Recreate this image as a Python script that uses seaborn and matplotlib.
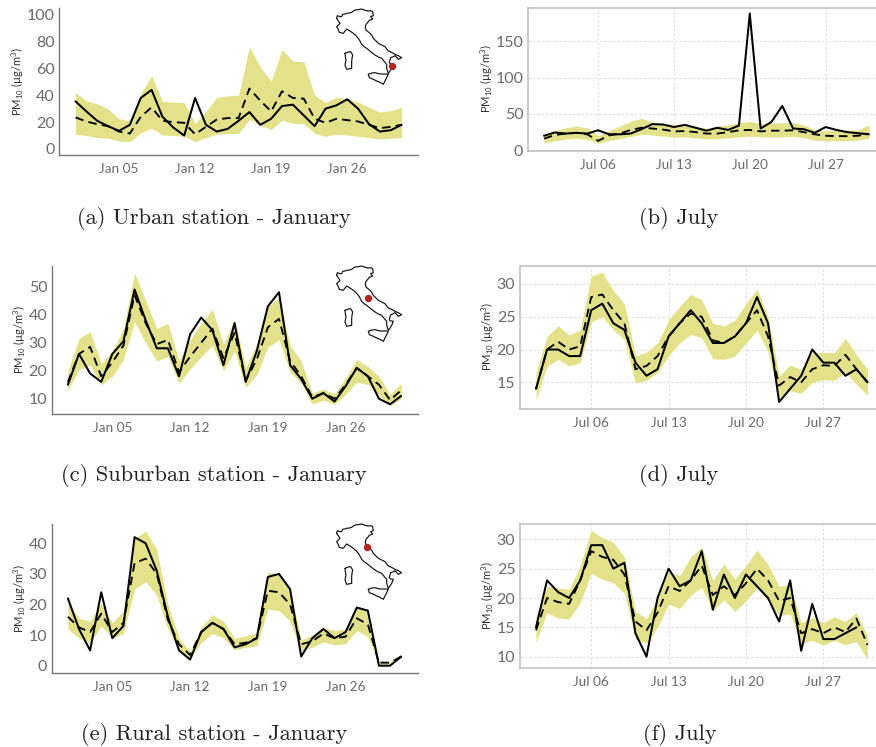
import numpy as np, pandas as pd
import matplotlib
matplotlib.use('Agg')
import matplotlib.pyplot as plt
import matplotlib.dates as mdates
import seaborn as sns

a_solid=[35.5,28,21,17,13.5,18,38,44,24,16,10,38,18,13,15,21,27.5,18,22.5,32,33,25,17,30,32.5,37,30,18.5,13,14,18]
a_dash=[23.5,20.5,18.5,17,13,11.5,24,31,21,20,19.5,11,16.5,22,23,23,45,36,28,43,38,37.5,22.5,19.5,22.5,21.5,20.5,18,15.5,16.5,18]
a_up=[42,36,33.5,30,22.5,21,41,54.5,35.5,35,34.5,19,28,38.5,39.5,40,76,61,50.5,74,65.5,65,40,34.5,38.5,37.5,35,31,27.5,28.5,31]
a_lo=[11,10,8.5,8,6,5.5,12,15.5,10.5,10,9.5,5.5,8.5,11,11.5,11.5,22,17.5,14.5,21.5,19,19,11.5,9.5,11,10.5,9.5,8.5,7.5,8,8.5]

b_solid=[20,24.5,23,24,23,27.5,22,22,23,29,36,35.5,32,35,31,27,31,28,34,188,30,39,61,30,29,24,32,28,25,23.5,22]
b_dash=[16,21,23,24,22,13,20.5,23,28,31,30,28.5,26,26.5,25,23,23,25,27.5,28,26,27,27,27.5,25,22,20,19.5,19.5,20,22.5]
b_up=[21,27,31,33.5,31,20,27,33,40,44,39,36,35,34,33,30,33,35,38,39.5,37,37.5,38,38,35,28,27,27.5,27.5,28,35]
b_lo=[10,13,15.5,16.5,15,9.5,13.5,16,19,22,21,19.5,18,18.5,17,15.5,16,17,18.5,19.5,18.5,18.5,18.5,19,17.5,14,13,13,13,14,16.5]

c_solid=[15,26,19,16,26,30.5,49,38,28,28,18,33,39,34.5,22,37,16,27,43,48,22,17,10,12,9,14.5,21,18,10,8,11]
c_dash=[16,26,28.5,18,23,29,47,37,29.5,31,19.5,25,30,35,24.5,33.5,16.5,24,35.5,38.5,23.5,18,10.5,12,10,15,21,18,15,9.5,13]
c_up=[20,31.5,34,22.5,27,35,55,45,35,37,23.5,31,37,42,29.5,38.5,21,29.5,43,46,29,23.5,12,13.5,11.5,17.5,24,21.5,18,11.5,15.5]
c_lo=[13,20.5,22,15,18,24,37.5,30,23.5,25,15.5,20.5,25,29,20,27,14,18.5,28.5,31,19.5,15.5,8,9.5,8,11.5,16,15,11.5,7.5,10]

d_solid=[14,20,20,19,19,26,27,24,23,18,16,17,22,24,26,24,21,21,22,24,28,24,12,14,16,20,18,18,16,17,15]
d_dash=[14,20,21.2,20,20.5,28,28.4,26,24,17,17.5,19,22,24,25.5,25,21.4,21,22,24,26,22,14.5,15.8,15,17,17.6,17.5,19.2,17,15]
d_up=[16.5,22,23.6,22.2,23,31.2,31.8,29,27,19,19.6,21,24.5,26.6,28.4,27.6,24,23.6,24.5,27,29.2,25,16,17.6,17,19.5,19.6,19.5,21.7,19.2,17]
d_lo=[12.3,17.4,18.5,17.5,18,24.2,25,23,21.5,14.9,15.3,16.5,19,21,22.3,21.8,18.6,18.5,19,21,22.9,19.7,12.5,13.7,13.3,15,15.4,15.3,16.5,14.7,13]

e_solid=[22,12,5,24,9,13,42,40,31,16,5,2,11,14,12,6,7,9,29,30,25,3,9,12,9,11,19,18,0,0,3]
e_dash=[16,12.5,11,17,11,14,33.5,35,30,15,7,3.5,11,14,12,7,7.5,9,24.5,24,20,7,8,10.5,9,9.5,15.5,13.5,1,1,3]
e_up=[20.5,15.5,14.5,20.5,14,18,41.5,44,38,20,9,4.5,12.5,16.7,14.5,9,9.8,10.8,30.5,30,25,8.5,10,12.5,11.5,12,19.5,17.5,1.5,1.2,3.5]
e_lo=[12,9,7.5,13,9,10.5,25,27.5,23,12,5,2.5,7.5,10.5,9,5.2,6,6.5,18.5,18,14.5,5,6,7.8,6.8,7.2,11.5,9.5,0.3,0.3,2.5]

f_solid=[15,23,21,20,23,29,29,25,26,14,10,20,25,22,23,28,18,24,20,24,22,20,16,23,11,19,13,13,14,15,np.nan]
f_dash=[14.5,20,19.3,19,23,28,27,26.5,24,16,14.5,17.5,22,21.2,23,25.5,20.5,22,20.5,22.5,25,23,19.5,20,14,14.7,14,15,14.2,16.5,12]
f_up=[17,22,21.7,21.5,25.5,31.5,30.3,29.5,27,17.7,16.5,20,24.5,23.8,27,28.7,23,25.8,23.2,25.5,28.2,25.7,22,22.3,15.8,16.7,15.8,16.8,16,17.5,13.5]
f_lo=[12.5,17.5,16.6,16.4,19.2,24.2,23.2,22.6,20.8,13,12.3,15,19,18.2,20.5,21.8,17.8,19.7,17.7,19.5,21.7,19.5,17,17.3,12.2,12.8,12,12.8,12,12.6,9.5]

jan_ticks=['2020-01-05','2020-01-12','2020-01-19','2020-01-26']
jul_ticks=['2020-07-06','2020-07-13','2020-07-20','2020-07-27']
captions=['(a) Urban station - January','(b) July','(c) Suburban station - January','(d) July','(e) Rural station - January','(f) July']

# Italy outline (hand-traced)
main_x=[20,22,30,35,38,45,50,58,65,70,75,85,95,105,115,122,128,130,122,128,118,115,108,106,108,114,120,126,130,138,145,155,165,170,175,185,195,205,215,205,195,188,182,178,180,190,185,180,175,170,170,163,155,145,135,122,110,102,95,90,85,78,70,60,50,45,40,28,24,20,30,20]
main_y=[40,32,35,35,28,27,25,24,22,18,15,14,12,16,18,17,20,32,35,42,46,50,58,66,75,80,85,92,100,108,115,120,125,132,138,142,148,152,158,163,152,156,158,172,176,178,190,198,205,190,178,170,160,156,150,140,130,125,118,108,100,92,85,78,72,78,85,82,72,65,55,40]
sic_x=[115,125,135,150,175,170,165,160,150,140,128,118,115]
sic_y=[208,204,203,207,207,218,228,238,232,228,222,218,208]
sar_x=[45,55,62,68,66,65,65,50,45,48,46,45]
sar_y=[145,141,140,150,160,170,190,193,180,165,155,145]

sns.set_theme(style='white')
plt.rcParams['font.family']=['Lato','DejaVu Sans']
plt.rcParams['mathtext.fontset']='custom'
plt.rcParams['mathtext.rm']='Lato'
plt.rcParams['mathtext.it']='Lato'
plt.rcParams['mathtext.default']='regular'

W,H=876,747
fig=plt.figure(figsize=(W/100,H/100),dpi=100)
def pxaxes(l,t,r,b):
    return fig.add_axes([l/W,1-b/H,(r-l)/W,(b-t)/H])

BAND='#e3e28b'; TICK='#6a6a6a'

def panel(box,year_month,solid,dash,up,lo,ylim,yticks,xt,right):
    ax=pxaxes(*box)
    d=pd.date_range(year_month,periods=31,freq='D')
    ax.fill_between(d,lo,up,color=BAND,lw=0)
    df=pd.DataFrame({'date':d,'obs':solid,'est':dash})
    sns.lineplot(data=df,x='date',y='est',ax=ax,color='black',lw=1.35,linestyle=(0,(4.5,2.8)),errorbar=None)
    sns.lineplot(data=df.dropna(),x='date',y='obs',ax=ax,color='black',lw=1.45,errorbar=None)
    ax.set_xlim(*xt)
    ax.set_ylim(*ylim)
    ax.set_yticks(yticks)
    ax.set_xticks(pd.to_datetime(jul_ticks if right else jan_ticks))
    ax.xaxis.set_major_formatter(mdates.DateFormatter('%b %d'))
    ax.set_xlabel('')
    ax.set_ylabel('PM$_{10}$ (µg/m$^3$)',fontsize=8,color='#333333',labelpad=0.5)
    ax.tick_params(axis='y',labelsize=11.5,colors=TICK,length=0,pad=3)
    ax.tick_params(axis='x',labelsize=9.8,colors=TICK,length=2,width=.6,pad=4)
    ax.spines['right'].set_visible(False)
    if right:
        ax.grid(True,ls=(0,(2,2)),color='#dcdcdc',lw=.8)
        ax.set_axisbelow(True)
        for s in ['top','left','bottom']:
            ax.spines[s].set_color('#bdbdbd'); ax.spines[s].set_linewidth(1.1)
    else:
        ax.grid(False)
        ax.spines['top'].set_visible(False)
        for s in ['left','bottom']:
            ax.spines[s].set_color('#777777'); ax.spines[s].set_linewidth(1.0)
    return ax

def lims(first_px,per_day,l,r,start):
    t0=pd.Timestamp(start)
    return (t0+pd.Timedelta(days=(l-first_px)/per_day), t0+pd.Timedelta(days=(r-first_px)/per_day))

def ylims(px0,v0,ppu,t,b):
    return (v0-(b-px0)/ppu, v0+(px0-t)/ppu)

J='2020-01-01'; U='2020-07-01'
panel((59,8,418,155),J,a_solid,a_dash,a_up,a_lo,ylims(149,0,1.343,8,155),[0,20,40,60,80,100],lims(75.5,10.87,59,418,J),False)
panel((527.5,7.5,876,150.5),U,b_solid,b_dash,b_up,b_lo,ylims(150.3,0,.727,7.5,150.5),[0,50,100,150],lims(544,10.83,527.5,876,U),True)
panel((51.5,266,418,413.5),J,c_solid,c_dash,c_up,c_lo,ylims(398.7,10,2.8,266,413.5),[10,20,30,40,50],lims(67.9,11.11,51.5,418,J),False)
panel((519.5,265.5,876,408.5),U,d_solid,d_dash,d_up,d_lo,ylims(382.3,15,6.555,265.5,408.5),[15,20,25,30],lims(536,11.05,519.5,876,U),True)
panel((51.5,524,418,672.5),J,e_solid,e_dash,e_up,e_lo,ylims(665.7,0,3.06,524,672.5),[0,10,20,30,40],lims(67.9,11.11,51.5,418,J),False)
panel((519.5,523.5,876,667.5),U,f_solid,f_dash,f_up,f_lo,ylims(656.7,10,5.87,523.5,667.5),[10,15,20,25,30],lims(536,11.05,519.5,876,U),True)

# maps: outline drawn in a 240x240 unit frame, one unit = 1/3 pixel
def italy(top_px,dx,dy):
    left=330
    ax=fig.add_axes([left/W,1-(top_px+80)/H,80/W,80/H],zorder=5)
    ax.patch.set_alpha(0)
    ax.set_xlim(0,240); ax.set_ylim(240,0); ax.axis('off')
    for xs,ys in [(main_x,main_y),(sic_x,sic_y),(sar_x,sar_y)]:
        ax.plot(xs,ys,color='#111111',lw=.85)
    ax.scatter([dx],[dy],s=28,color='#b22222',zorder=6,lw=0)
italy(5,185,183)
italy(262,115,107)
italy(520,110,81)

cap_pos=[(214,218.5),(679,218.5),(214,475.5),(679,475.5),(214,734.5),(679.5,734.5)]
for (x,y),c in zip(cap_pos,captions):
    fig.text(x/W,1-y/H,c,ha='center',va='center',fontsize=16.2,family=['cmr10','DejaVu Serif'],color='#222222')
fig.savefig('out.png',dpi=100)
